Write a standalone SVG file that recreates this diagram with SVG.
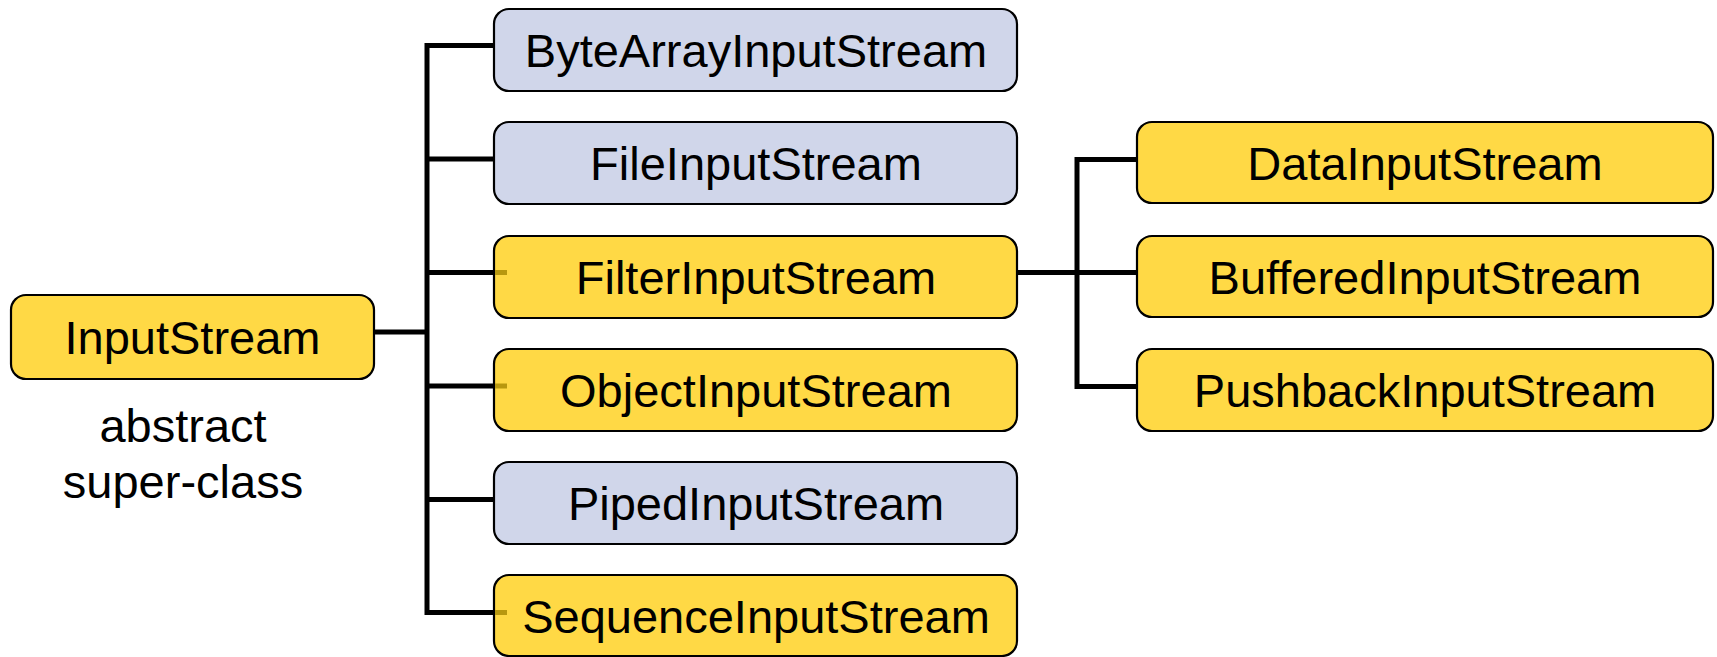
<svg xmlns="http://www.w3.org/2000/svg" width="1717" height="657" viewBox="0 0 1717 657">
<style>
.box{stroke:#000;stroke-width:2.2}
.y{fill:#FFD945}
.b{fill:#D0D6EA}
.t{font-family:"Liberation Sans",Arial,sans-serif;font-size:47px;fill:#000;text-anchor:middle}
.c{stroke:#000;stroke-width:5;fill:none;stroke-linecap:square}
.o{stroke:#B8980F;stroke-width:5}
</style>
<rect width="1717" height="657" fill="#fff"/>
<g id="connectors">
<path class="c" d="M376 332H427M427 45.5V612.5M427 45.5H493M427 159H493M427 272.5H493M427 386H493M427 499.5H493M427 612.5H493"/>
<path class="c" d="M1019 272.5H1135M1077 159.5V386.5M1077 159.5H1135M1077 386.5H1135"/>
</g>
<g id="InputStream">
<rect class="box y" x="11" y="295" width="363" height="84" rx="15"/>
<text class="t" x="192.5" y="354">InputStream</text>
<text class="t" x="183" y="442">abstract</text>
<text class="t" x="183" y="498">super-class</text>
</g>
<g id="ByteArrayInputStream">
<rect class="box b" x="494" y="9" width="523" height="82" rx="15"/>
<text class="t" x="756" y="67">ByteArrayInputStream</text>
</g>
<g id="FileInputStream">
<rect class="box b" x="494" y="122" width="523" height="82" rx="15"/>
<text class="t" x="756" y="180">FileInputStream</text>
</g>
<g id="FilterInputStream">
<rect class="box y" x="494" y="236" width="523" height="82" rx="15"/>
<line class="o" x1="495" y1="272.5" x2="507" y2="272.5"/>
<text class="t" x="756" y="294">FilterInputStream</text>
</g>
<g id="ObjectInputStream">
<rect class="box y" x="494" y="349" width="523" height="82" rx="15"/>
<line class="o" x1="495" y1="386" x2="507" y2="386"/>
<text class="t" x="756" y="407">ObjectInputStream</text>
</g>
<g id="PipedInputStream">
<rect class="box b" x="494" y="462" width="523" height="82" rx="15"/>
<text class="t" x="756" y="520">PipedInputStream</text>
</g>
<g id="SequenceInputStream">
<rect class="box y" x="494" y="575" width="523" height="81" rx="15"/>
<line class="o" x1="495" y1="612.5" x2="507" y2="612.5"/>
<text class="t" x="756" y="633">SequenceInputStream</text>
</g>
<g id="DataInputStream">
<rect class="box y" x="1137" y="122" width="576" height="81" rx="15"/>
<text class="t" x="1425" y="180">DataInputStream</text>
</g>
<g id="BufferedInputStream">
<rect class="box y" x="1137" y="236" width="576" height="81" rx="15"/>
<text class="t" x="1425" y="294">BufferedInputStream</text>
</g>
<g id="PushbackInputStream">
<rect class="box y" x="1137" y="349" width="576" height="82" rx="15"/>
<text class="t" x="1425" y="407">PushbackInputStream</text>
</g>
</svg>
